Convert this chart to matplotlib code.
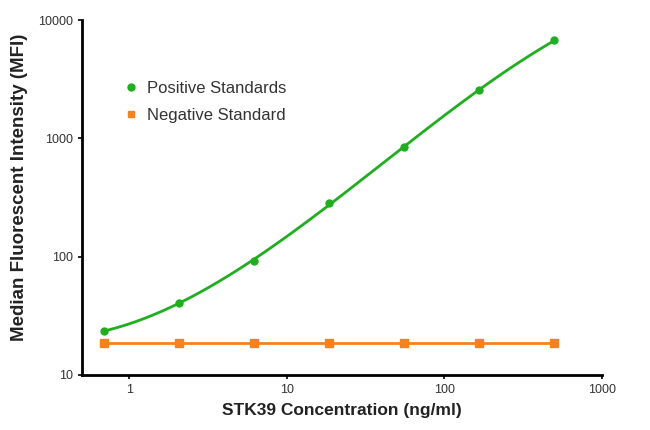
import matplotlib
matplotlib.use('Agg')
import matplotlib.pyplot as plt
import numpy as np
from matplotlib.lines import Line2D
from matplotlib.ticker import FixedLocator, FixedFormatter, NullLocator

plt.rcParams['font.family'] = ['Liberation Sans', 'DejaVu Sans']

# STK39 standard curve (3-fold dilution series)
conc = [0.686, 2.06, 6.17, 18.5, 55.6, 166.7, 500.0]
pos_mfi = [23.5, 40.6, 92, 284, 846, 2565, 6770]
neg_mfi = [18.5, 18.5, 18.5, 18.5, 18.5, 18.5, 18.5]

x_ticks = [1, 10, 100, 1000]
y_ticks = [10, 100, 1000, 10000]

GREEN = '#1fae1f'
ORANGE = '#f5821f'

# smooth fitted curve through the positive standards (cubic in log-log space)
lx = np.log10(conc)
ly = np.log10(pos_mfi)
coef = np.polyfit(lx, ly, 3)
fx = np.linspace(lx[0], lx[-1], 200)
fit_x = 10 ** fx
fit_y = 10 ** np.polyval(coef, fx)

fig = plt.figure(figsize=(6.5, 4.3), dpi=100)
ax = fig.add_axes([0.126, 0.128, 0.8, 0.825])

ax.plot(fit_x, fit_y, color=GREEN, lw=2.0)
ax.plot(conc, pos_mfi, 'o', color=GREEN, ms=5)
ax.plot(conc, neg_mfi, '-s', color=ORANGE, lw=2.0, ms=5.5)

ax.set_xscale('log')
ax.set_yscale('log')
ax.set_xlim(0.5, 1000)
ax.set_ylim(10, 10000)

ax.xaxis.set_major_locator(FixedLocator(x_ticks))
ax.xaxis.set_major_formatter(FixedFormatter([str(v) for v in x_ticks]))
ax.xaxis.set_minor_locator(NullLocator())
ax.yaxis.set_major_locator(FixedLocator(y_ticks))
ax.yaxis.set_major_formatter(FixedFormatter([str(v) for v in y_ticks]))
ax.yaxis.set_minor_locator(NullLocator())

for s in ['top', 'right']:
    ax.spines[s].set_visible(False)
for s in ['left', 'bottom']:
    ax.spines[s].set_linewidth(2.0)
ax.tick_params(axis='both', labelsize=9, width=1.2, length=3, colors='black', labelcolor='#333333')

ax.set_xlabel('STK39 Concentration (ng/ml)', fontsize=12.5, fontweight='bold', color='#222222', labelpad=5)
ax.set_ylabel('Median Fluorescent Intensity (MFI)', fontsize=13.5, fontweight='bold', color='#222222')
ax.yaxis.set_label_coords(-0.104, 0.53)

handles = [
    Line2D([], [], ls='none', marker='o', color=GREEN, ms=5),
    Line2D([], [], ls='none', marker='s', color=ORANGE, ms=5),
]
leg = ax.legend(handles, ['Positive Standards', 'Negative Standard'], loc='upper left',
                bbox_to_anchor=(0.055, 0.87), frameon=False, fontsize=12,
                handlelength=0.6, handletextpad=0.7, labelspacing=0.7)
for t in leg.get_texts():
    t.set_color('#333333')

fig.savefig('out.png', dpi=100)
